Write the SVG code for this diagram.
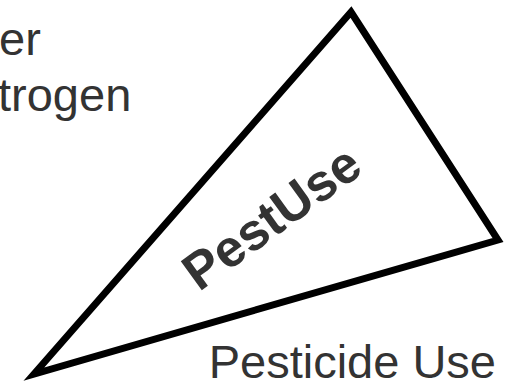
<svg xmlns="http://www.w3.org/2000/svg" width="512" height="384" viewBox="0 0 512 384">
<style>
.lbl{font-family:"Liberation Sans",Arial,sans-serif;font-size:47px;fill:#333333}
.tri{fill:#ffffff;stroke:#000000;stroke-width:7;stroke-linejoin:miter}
.in{font-family:"Liberation Sans",Arial,sans-serif;font-size:52px;font-weight:bold;fill:#333333}
</style>
<rect width="512" height="384" fill="#ffffff"/>
<g id="node-water"><text class="lbl" x="-1" y="55">er</text></g>
<g id="node-nitrogen"><text class="lbl" x="-2" y="111">trogen</text></g>
<g id="node-pestuse">
<polygon class="tri" points="351,12 498,240 34,374"/>
<text class="in" text-anchor="middle" transform="translate(282,232) rotate(-36)">PestUse</text>
</g>
<g id="node-pesticide-label"><text class="lbl" x="496" y="378" text-anchor="end">Pesticide Use</text></g>
<g id="connectors"></g>
</svg>
